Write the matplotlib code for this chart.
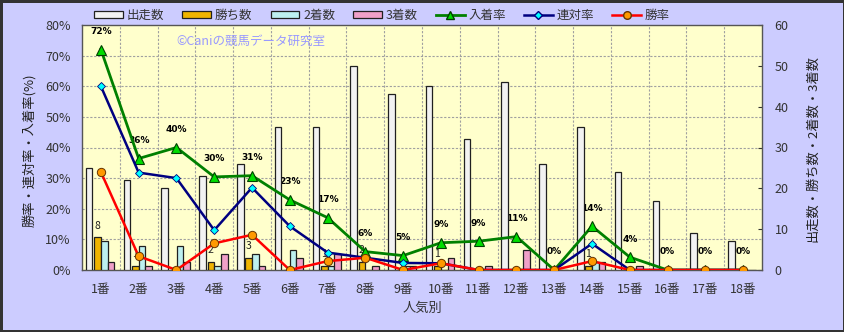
"""人気別 成績グラフ（出走数・勝ち数・2着数・3着数 + 勝率・連対率・入着率）."""
import matplotlib
matplotlib.use("Agg")
import matplotlib.pyplot as plt
from matplotlib.lines import Line2D
from matplotlib.patches import Patch

plt.rcParams["font.family"] = ["Noto Sans CJK JP", "DejaVu Sans"]

CATEGORIES = [f"{i}番" for i in range(1, 19)]

# 棒（右軸：頭数）
RUNS = [25, 22, 20, 23, 26, 35, 35, 50, 43, 45, 32, 46, 26, 35, 24, 17, 9, 7]
WINS = [8, 1, 0, 2, 3, 0, 1, 2, 0, 1, 0, 0, 0, 1, 0, 0, 0, 0]
SECONDS = [7, 6, 6, 1, 4, 5, 1, 0, 1, 0, 0, 0, 0, 2, 0, 0, 0, 0]
THIRDS = [2, 1, 2, 4, 1, 3, 4, 1, 1, 3, 1, 5, 0, 2, 1, 0, 0, 0]

# 折れ線（左軸：%）
PLACE_RATE = [72, 36.4, 40, 30.4, 30.8, 22.9, 17.1, 6, 4.7, 8.9, 9.4, 10.9, 0, 14.3, 4.2, 0, 0, 0]
RENTAI_RATE = [60, 31.8, 30, 13, 26.9, 14.3, 5.7, 4, 2.3, 2.2, 0, 0, 0, 8.6, 0, 0, 0, 0]
WIN_RATE = [32, 4.5, 0, 8.7, 11.5, 0, 2.9, 4, 0, 2.2, 0, 0, 0, 2.9, 0, 0, 0, 0]

BG = "#CCCCFF"
PLOT_BG = "#FFFFCC"
EDGE = "#202020"
BAR_STYLE = [
    ("出走数", RUNS, "#F2F2F2", -0.31),
    ("勝ち数", WINS, "#F0B400", -0.085),
    ("2着数", SECONDS, "#BDF0F0", 0.09),
    ("3着数", THIRDS, "#F0A0C8", 0.265),
]
BAR_W = 0.175

fig = plt.figure(figsize=(8.45, 3.32), dpi=100)
fig.patch.set_facecolor(BG)
fig.patch.set_edgecolor("#333333")
fig.patch.set_linewidth(2.5)

ax = fig.add_axes([82 / 845, 1 - 270 / 332, 680 / 845, 245 / 332])
ax.set_facecolor(PLOT_BG)
ax2 = ax.twinx()
x = range(len(CATEGORIES))

# 補助線（左軸の10%刻み、カテゴリ境界）
for v in range(10, 80, 10):
    ax.axhline(v * 60 / 80, color="#A0A0A0", lw=0.8, ls=(0, (2, 1.5)), zorder=0)
for i in range(len(CATEGORIES) - 1):
    ax.axvline(i + 0.5, color="#A0A0A0", lw=0.8, ls=(0, (2, 1.5)), zorder=0)

for name, vals, color, off in BAR_STYLE:
    ax.bar([i + off for i in x], vals, width=BAR_W, color=color,
           edgecolor=EDGE, linewidth=0.9, zorder=3)

ax.set_xlim(-0.5, len(CATEGORIES) - 0.5)
ax.set_ylim(0, 60)
ax.yaxis.set_ticks_position("right")
ax.yaxis.set_label_position("right")
ax.set_yticks(range(0, 61, 10))
ax.tick_params(axis="y", which="both", left=False, labelleft=False, right=True,
               labelright=True, direction="in", length=3, labelsize=9,
               colors="#333333", pad=9)
ax.set_xticks(list(x))
ax.set_xticklabels(CATEGORIES)
ax.tick_params(axis="x", length=0, labelsize=9, colors="#333333", pad=9)
for s in ax.spines.values():
    s.set_color("#555555")
    s.set_linewidth(1)

ax2.set_ylim(0, 80)
ax2.set_yticks(range(0, 81, 10))
ax2.set_yticklabels([f"{v}%" for v in range(0, 81, 10)])
ax2.tick_params(axis="y", which="both", right=False, labelright=False, left=True,
                labelleft=True, length=0, labelsize=9, colors="#333333", pad=8)
for s in ax2.spines.values():
    s.set_visible(False)

ax2.plot(x, PLACE_RATE, color="#008000", lw=2, marker="^", ms=7.5,
         mfc="#00DD00", mec="#004000", mew=0.8, zorder=3)
ax2.plot(x, RENTAI_RATE, color="#000080", lw=1.8, marker="D", ms=4.5,
         mfc="#00FFFF", mec="#000080", mew=0.6, zorder=4)
ax2.plot(x, WIN_RATE, color="#FF0000", lw=1.8, marker="o", ms=6,
         mfc="#FF9900", mec="#663300", mew=0.7, zorder=5)

# ラベル（棒の背面に置く）
for i, v in enumerate(PLACE_RATE):
    ax.annotate(f"{v:.0f}%", (i, v * 60 / 80), xytext=(0, 13),
                textcoords="offset points", ha="center", va="center",
                fontsize=6.5, fontweight="bold", family="DejaVu Sans", zorder=2)
for i, v in enumerate(WINS):
    if v > 0:
        ax.annotate(str(v), (i - 0.1, v), xytext=(0, 8.5),
                    textcoords="offset points", ha="center", va="center",
                    fontsize=7.5, color="#222222", zorder=2)

ax.text(0.139, 0.932, "©Caniの競馬データ研究室", transform=ax.transAxes,
        fontsize=9, color="#9999FF", va="center", ha="left", zorder=1)

fig.text(29 / 845, 1 - 150 / 332, "勝率・連対率・入着率(%)", rotation=90,
         ha="center", va="center", fontsize=9.5, color="#222222")
fig.text(813 / 845, 1 - 148 / 332, "出走数・勝ち数・2着数・3着数", rotation=90,
         ha="center", va="center", fontsize=9.5, color="#222222")
fig.text(422 / 845, 1 - 308 / 332, "人気別", ha="center", va="center",
         fontsize=9.5, color="#333333")

handles = [Patch(facecolor=c, edgecolor=EDGE, linewidth=0.9) for _, _, c, _ in BAR_STYLE]
handles += [
    Line2D([], [], color="#008000", lw=2, marker="^", ms=6, mfc="#00DD00", mec="#004000"),
    Line2D([], [], color="#000080", lw=1.8, marker="D", ms=4, mfc="#00FFFF", mec="#000080"),
    Line2D([], [], color="#FF0000", lw=1.8, marker="o", ms=5.5, mfc="#FF9900", mec="#663300"),
]
labels = [b[0] for b in BAR_STYLE] + ["入着率", "連対率", "勝率"]
fig.legend(handles, labels, loc="center", bbox_to_anchor=(382 / 845, 1 - 15 / 332),
           ncol=7, frameon=False, fontsize=9, handlelength=2.3, handleheight=0.5,
           handletextpad=0.3, columnspacing=1.45, labelcolor="#333333")

fig.savefig("out.png", dpi=100, facecolor=fig.get_facecolor(),
            edgecolor=fig.get_edgecolor())
